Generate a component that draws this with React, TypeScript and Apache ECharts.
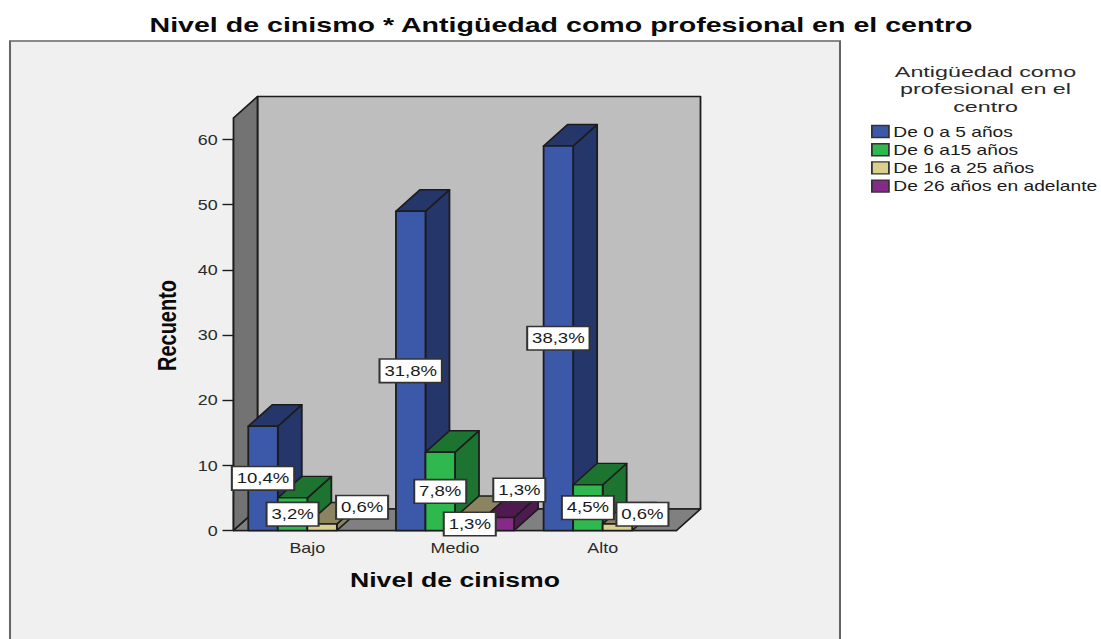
import React, { useEffect, useRef } from "react";
import * as echarts from "echarts";

const categories = ["Bajo", "Medio", "Alto"];
const seriesNames = ["De 0 a 5 años", "De 6 a15 años", "De 16 a 25 años", "De 26 años en adelante"];
const band0a5 = [16, 49, 59];
const band6a15 = [5, 12, 7];
const band16a25 = [1, 2, 1];
const band26mas = [0, 2, 0];
const labels0a5 = ["10,4%", "31,8%", "38,3%"];
const labels6a15 = ["3,2%", "7,8%", "4,5%"];
const labels16a25 = ["0,6%", "1,3%", "0,6%"];
const labels26mas = ["", "1,3%", ""];
const yTicks = { min: 0, max: 60, interval: 10 };
const ceilingValue = 63.3;
const chartTitle = "Nivel de cinismo * Antigüedad como profesional en el centro";
const legendTitle = "Antigüedad como\nprofesional en el\ncentro";

const allValues = [band0a5, band6a15, band16a25, band26mas];
const allLabels = [labels0a5, labels6a15, labels16a25, labels26mas];

// The picture is a horizontally stretched image: draw in a narrower box and stretch it.
const S = 1.28;
const X = (px: number) => px / S;
const depthX = X(24);
const depthY = 21.5;
const barShare = 0.2;
const stroke = "#1c1c1c";
const lw = 1.4;

const frontColors = ["#3c58a8", "#2eb84d", "#d9d08e", "#862a87"];
const sideColors = ["#25366b", "#1d7430", "#8a8460", "#4f1a50"];

// displaced labels: [category, series] -> shift in screen pixels
const labelShift: Record<string, [number, number]> = {
  "0-2": [40, -20],
  "1-3": [20, -34],
  "2-2": [25, -13],
};

function barSeries(si: number) {
  return {
    type: "custom",
    name: seriesNames[si],
    coordinateSystem: "cartesian2d",
    z: 3 + si,
    itemStyle: { color: frontColors[si] },
    data: allValues[si].map((v, i) => [i, v]),
    encode: { x: 0, y: 1 },
    renderItem: (_p: any, api: any) => {
      const cat = api.value(0);
      const val = api.value(1);
      if (!val) return null;
      const band = api.size([1, 0])[0];
      const w = band * barShare;
      const cx = api.coord([cat, 0])[0];
      const x0 = cx - band * 2 * barShare + si * w;
      const x1 = x0 + w;
      const yB = api.coord([cat, 0])[1];
      const yT = api.coord([cat, val])[1];
      const base = { stroke, lineWidth: lw, lineJoin: "round" };
      return {
        type: "group",
        children: [
          {
            type: "polygon",
            shape: { points: [[x1, yB], [x1 + depthX, yB - depthY], [x1 + depthX, yT - depthY], [x1, yT]] },
            style: { ...base, fill: sideColors[si] },
          },
          {
            type: "polygon",
            shape: { points: [[x0, yT], [x0 + depthX, yT - depthY], [x1 + depthX, yT - depthY], [x1, yT]] },
            style: { ...base, fill: sideColors[si] },
          },
          {
            type: "rect",
            shape: { x: x0, y: yT, width: w, height: yB - yT },
            style: { ...base, fill: frontColors[si] },
          },
        ],
      };
    },
  };
}

const labelItems: { c: number; s: number; v: number; t: string }[] = [];
allLabels.forEach((arr, s) =>
  arr.forEach((t, c) => {
    if (t) labelItems.push({ c, s, v: allValues[s][c], t });
  })
);

export default function App() {
  const ref = useRef<HTMLDivElement>(null);
  useEffect(() => {
    const chart = echarts.init(ref.current!, undefined, { renderer: "svg" });
    chart.setOption({
      animation: false,
      backgroundColor: "#ffffff",
      textStyle: { fontFamily: "Liberation Sans" },
      legend: {
        data: seriesNames,
        orient: "vertical",
        left: X(871),
        top: 124,
        icon: "rect",
        itemWidth: X(17),
        itemHeight: 12,
        itemGap: 3.2,
        padding: 0,
        selectedMode: false,
        itemStyle: { borderColor: "#333", borderWidth: 1.4 },
        textStyle: { fontFamily: "Liberation Sans", fontSize: 15, color: "#1a1a1a", padding: [0, 0, 0, -1.5] },
      },
      grid: { left: X(233.5), width: X(443), top: 139.5, height: 391, containLabel: false },
      xAxis: {
        type: "category",
        data: categories,
        name: "Nivel de cinismo",
        nameLocation: "middle",
        nameGap: 39,
        nameTextStyle: { fontFamily: "Liberation Sans", fontWeight: "bold", fontSize: 20.8, color: "#0a0a0a" },
        axisLine: { lineStyle: { color: stroke, width: lw } },
        axisTick: { alignWithLabel: true, length: 11, lineStyle: { color: stroke, width: lw } },
        axisLabel: { fontFamily: "Liberation Sans", fontSize: 14, color: "#2a2a2a", margin: 10.5 },
      },
      yAxis: {
        type: "value",
        ...yTicks,
        name: "Recuento",
        nameLocation: "middle",
        nameGap: 41.5,
        nameTextStyle: {
          fontFamily: "Liberation Sans",
          fontWeight: "bold",
          fontSize: 20,
          color: "#0a0a0a",
          padding: [0, 0, 0, 19],
        },
        splitLine: { show: false },
        axisLine: { show: true, lineStyle: { color: stroke, width: lw } },
        axisTick: { show: true, length: X(11), lineStyle: { color: stroke, width: lw } },
        axisLabel: { fontFamily: "Liberation Sans", fontSize: 14, color: "#2a2a2a", margin: 12.4 },
      },
      graphic: [
        {
          type: "rect",
          z: -10,
          silent: true,
          shape: { x: X(10), y: 41, width: X(830), height: 640 },
          style: { fill: "#f0f0f0", stroke: "#666666", lineWidth: 1.6 },
        },
        {
          type: "text",
          x: X(561),
          y: 25,
          scaleX: 1.117,
          style: {
            text: chartTitle,
            align: "center",
            verticalAlign: "middle",
            fontFamily: "Liberation Sans",
            fontWeight: "bold",
            fontSize: 20,
            fill: "#0a0a0a",
          },
        },
        {
          type: "text",
          x: X(985.5),
          y: 89,
          scaleX: 1.175,
          style: {
            text: legendTitle,
            align: "center",
            verticalAlign: "middle",
            fontFamily: "Liberation Sans",
            fontSize: 15.5,
            lineHeight: 17.5,
            fill: "#2a2a2a",
          },
        },
      ],
      series: [
        {
          type: "custom",
          name: "walls",
          coordinateSystem: "cartesian2d",
          z: 1,
          silent: true,
          data: [[0, ceilingValue]],
          encode: { x: 0, y: 1 },
          renderItem: (p: any, api: any) => {
            const l = p.coordSys.x;
            const r = l + p.coordSys.width;
            const b = api.coord([0, 0])[1];
            const t = api.coord([0, api.value(1)])[1];
            const base = { stroke, lineWidth: lw, lineJoin: "round" };
            return {
              type: "group",
              children: [
                {
                  type: "polygon",
                  shape: { points: [[l + depthX, t - depthY], [r + depthX, t - depthY], [r + depthX, b - depthY], [l + depthX, b - depthY]] },
                  style: { ...base, fill: "#bebebe" },
                },
                {
                  type: "polygon",
                  shape: { points: [[l, t], [l + depthX, t - depthY], [l + depthX, b - depthY], [l, b]] },
                  style: { ...base, fill: "#737373" },
                },
                {
                  type: "polygon",
                  shape: { points: [[l, b], [l + depthX, b - depthY], [r + depthX, b - depthY], [r, b]] },
                  style: { ...base, fill: "#808080" },
                },
              ],
            };
          },
        },
        ...seriesNames.map((_, i) => barSeries(i)),
        {
          type: "custom",
          name: "labels",
          coordinateSystem: "cartesian2d",
          z: 20,
          silent: true,
          data: labelItems.map((d) => [d.c, d.v]),
          encode: { x: 0, y: 1 },
          renderItem: (p: any, api: any) => {
            const d = labelItems[p.dataIndex];
            const band = api.size([1, 0])[0];
            const w = band * barShare;
            const cx = api.coord([d.c, 0])[0] - band * 2 * barShare + d.s * w + w / 2;
            const cy = api.coord([d.c, d.v / 2])[1];
            const shift = labelShift[`${d.c}-${d.s}`] || [0, 0];
            return {
              type: "text",
              x: cx + X(shift[0]),
              y: cy + shift[1],
              style: {
                text: d.t,
                align: "center",
                verticalAlign: "middle",
                fontFamily: "Liberation Sans",
                fontSize: 14.5,
                fill: "#1a1a1a",
                backgroundColor: "#ffffff",
                borderColor: "#333333",
                borderWidth: 1.6,
                padding: [4, 3, 3, 3],
              },
            };
          },
        },
      ],
    });
    return () => chart.dispose();
  }, []);
  return (
    <div style={{ position: "absolute", left: 0, top: 0, width: 1101, height: 639, overflow: "hidden", background: "#fff" }}>
      <div
        ref={ref}
        style={{ width: 1101 / S, height: 639, transform: `scaleX(${S})`, transformOrigin: "0 0" }}
      />
    </div>
  );
}
